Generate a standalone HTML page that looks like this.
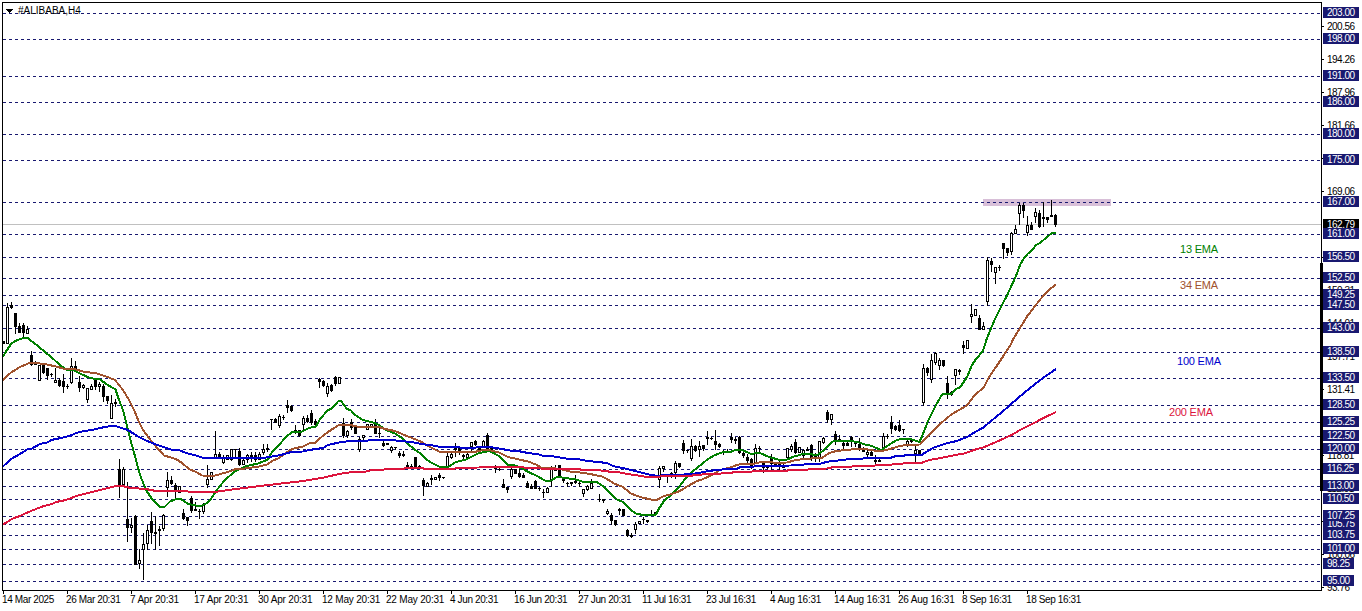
<!DOCTYPE html>
<html><head><meta charset="utf-8"><title>#ALIBABA,H4</title>
<style>
html,body{margin:0;padding:0;background:#fff;}
body{width:1362px;height:611px;overflow:hidden;position:relative;font-family:"Liberation Sans",sans-serif;}
#c{position:absolute;left:0;top:0;}
.t{position:absolute;white-space:nowrap;font-size:10px;line-height:11px;height:11px;color:#000;}
.lv{position:absolute;left:1323px;height:11px;background:#191970;color:#fff;font-size:10px;line-height:11px;white-space:nowrap;letter-spacing:-0.5px;}
.lv span{position:absolute;left:4px;top:0px;}
.tk{letter-spacing:-0.5px;}
.dt{letter-spacing:-0.38px;}
.ema{position:absolute;white-space:nowrap;font-size:11px;line-height:12px;letter-spacing:-0.2px;}
</style></head><body>

<svg id="c" width="1362" height="611" viewBox="0 0 1362 611">
<rect x="983" y="199" width="128" height="7" fill="#D8BFD8" shape-rendering="crispEdges"/>
<g stroke="#191970" stroke-width="1" stroke-dasharray="3 3" shape-rendering="crispEdges"><line x1="3" y1="13.5" x2="1321" y2="13.5"/><line x1="3" y1="39.5" x2="1321" y2="39.5"/><line x1="3" y1="76.5" x2="1321" y2="76.5"/><line x1="3" y1="102.5" x2="1321" y2="102.5"/><line x1="3" y1="134.5" x2="1321" y2="134.5"/><line x1="3" y1="160.5" x2="1321" y2="160.5"/><line x1="3" y1="202.5" x2="1321" y2="202.5"/><line x1="3" y1="234.5" x2="1321" y2="234.5"/><line x1="3" y1="257.5" x2="1321" y2="257.5"/><line x1="3" y1="278.5" x2="1321" y2="278.5"/><line x1="3" y1="295.5" x2="1321" y2="295.5"/><line x1="3" y1="305.5" x2="1321" y2="305.5"/><line x1="3" y1="328.5" x2="1321" y2="328.5"/><line x1="3" y1="352.5" x2="1321" y2="352.5"/><line x1="3" y1="378.5" x2="1321" y2="378.5"/><line x1="3" y1="405.5" x2="1321" y2="405.5"/><line x1="3" y1="422.5" x2="1321" y2="422.5"/><line x1="3" y1="436.5" x2="1321" y2="436.5"/><line x1="3" y1="449.5" x2="1321" y2="449.5"/><line x1="3" y1="469.5" x2="1321" y2="469.5"/><line x1="3" y1="486.5" x2="1321" y2="486.5"/><line x1="3" y1="499.5" x2="1321" y2="499.5"/><line x1="3" y1="516.5" x2="1321" y2="516.5"/><line x1="3" y1="524.5" x2="1321" y2="524.5"/><line x1="3" y1="535.5" x2="1321" y2="535.5"/><line x1="3" y1="549.5" x2="1321" y2="549.5"/><line x1="3" y1="564.5" x2="1321" y2="564.5"/><line x1="3" y1="581.5" x2="1321" y2="581.5"/></g>
<rect x="3" y="224" width="1318" height="1" fill="#C0C0C0" shape-rendering="crispEdges"/>
<g shape-rendering="crispEdges" fill="#000"><rect x="3" y="341" width="1" height="3"/><rect x="2" y="341" width="3" height="3"/><rect x="7" y="303" width="1" height="41"/><rect x="6" y="307" width="3" height="37"/><rect x="11" y="302" width="1" height="7"/><rect x="10" y="305" width="3" height="3"/><rect x="15" y="313" width="1" height="21"/><rect x="14" y="313" width="3" height="14"/><rect x="19" y="323" width="1" height="10"/><rect x="18" y="326" width="3" height="7"/><rect x="23" y="323" width="1" height="15"/><rect x="22" y="325" width="3" height="8"/><rect x="27" y="326" width="1" height="8"/><rect x="26" y="329" width="3" height="5"/><rect x="31" y="351" width="1" height="15"/><rect x="30" y="355" width="3" height="10"/><rect x="35" y="361" width="1" height="4"/><rect x="34" y="364" width="3" height="1"/><rect x="39" y="365" width="1" height="16"/><rect x="38" y="365" width="3" height="16"/><rect x="43" y="365" width="1" height="9"/><rect x="42" y="365" width="3" height="8"/><rect x="47" y="368" width="1" height="12"/><rect x="46" y="368" width="3" height="8"/><rect x="51" y="373" width="1" height="4"/><rect x="50" y="374" width="3" height="1"/><rect x="55" y="368" width="1" height="15"/><rect x="54" y="380" width="3" height="3"/><rect x="59" y="378" width="1" height="9"/><rect x="58" y="380" width="3" height="6"/><rect x="63" y="374" width="1" height="19"/><rect x="62" y="381" width="3" height="6"/><rect x="67" y="384" width="1" height="5"/><rect x="66" y="386" width="3" height="1"/><rect x="71" y="358" width="1" height="26"/><rect x="70" y="366" width="3" height="17"/><rect x="75" y="361" width="1" height="9"/><rect x="74" y="366" width="3" height="4"/><rect x="79" y="376" width="1" height="16"/><rect x="78" y="382" width="3" height="6"/><rect x="83" y="384" width="1" height="5"/><rect x="82" y="385" width="3" height="3"/><rect x="87" y="388" width="1" height="15"/><rect x="86" y="388" width="3" height="12"/><rect x="91" y="384" width="1" height="6"/><rect x="90" y="386" width="3" height="4"/><rect x="95" y="378" width="1" height="12"/><rect x="94" y="379" width="3" height="8"/><rect x="99" y="382" width="1" height="10"/><rect x="98" y="384" width="3" height="3"/><rect x="103" y="384" width="1" height="18"/><rect x="102" y="386" width="3" height="11"/><rect x="107" y="396" width="1" height="8"/><rect x="106" y="396" width="3" height="5"/><rect x="111" y="395" width="1" height="24"/><rect x="110" y="403" width="3" height="16"/><rect x="115" y="399" width="1" height="8"/><rect x="114" y="402" width="3" height="2"/><rect x="119" y="459" width="1" height="39"/><rect x="118" y="469" width="3" height="16"/><rect x="123" y="467" width="1" height="18"/><rect x="122" y="469" width="3" height="16"/><rect x="127" y="482" width="1" height="60"/><rect x="126" y="519" width="3" height="9"/><rect x="131" y="518" width="1" height="15"/><rect x="130" y="525" width="3" height="3"/><rect x="135" y="515" width="1" height="50"/><rect x="134" y="516" width="3" height="49"/><rect x="139" y="549" width="1" height="20"/><rect x="138" y="560" width="3" height="4"/><rect x="143" y="533" width="1" height="47"/><rect x="142" y="544" width="3" height="6"/><rect x="147" y="525" width="1" height="25"/><rect x="146" y="530" width="3" height="14"/><rect x="151" y="512" width="1" height="32"/><rect x="150" y="521" width="3" height="12"/><rect x="155" y="516" width="1" height="34"/><rect x="154" y="532" width="3" height="2"/><rect x="159" y="526" width="1" height="20"/><rect x="158" y="529" width="3" height="2"/><rect x="163" y="514" width="1" height="17"/><rect x="162" y="515" width="3" height="14"/><rect x="167" y="472" width="1" height="25"/><rect x="166" y="480" width="3" height="8"/><rect x="171" y="476" width="1" height="9"/><rect x="170" y="480" width="3" height="4"/><rect x="175" y="483" width="1" height="15"/><rect x="174" y="485" width="3" height="6"/><rect x="179" y="486" width="1" height="7"/><rect x="178" y="486" width="3" height="7"/><rect x="183" y="509" width="1" height="11"/><rect x="182" y="513" width="3" height="6"/><rect x="187" y="517" width="1" height="9"/><rect x="186" y="517" width="3" height="4"/><rect x="191" y="496" width="1" height="17"/><rect x="190" y="498" width="3" height="13"/><rect x="195" y="502" width="1" height="9"/><rect x="194" y="509" width="3" height="2"/><rect x="199" y="509" width="1" height="10"/><rect x="198" y="511" width="3" height="1"/><rect x="203" y="503" width="1" height="11"/><rect x="202" y="504" width="3" height="8"/><rect x="207" y="465" width="1" height="23"/><rect x="206" y="479" width="3" height="6"/><rect x="211" y="472" width="1" height="8"/><rect x="210" y="472" width="3" height="8"/><rect x="215" y="431" width="1" height="27"/><rect x="214" y="454" width="3" height="4"/><rect x="219" y="452" width="1" height="6"/><rect x="218" y="454" width="3" height="4"/><rect x="223" y="455" width="1" height="9"/><rect x="222" y="457" width="3" height="6"/><rect x="227" y="455" width="1" height="5"/><rect x="226" y="455" width="3" height="5"/><rect x="231" y="449" width="1" height="12"/><rect x="230" y="449" width="3" height="11"/><rect x="235" y="449" width="1" height="10"/><rect x="234" y="449" width="3" height="1"/><rect x="239" y="448" width="1" height="18"/><rect x="238" y="451" width="3" height="14"/><rect x="243" y="459" width="1" height="6"/><rect x="242" y="460" width="3" height="5"/><rect x="247" y="454" width="1" height="9"/><rect x="246" y="455" width="3" height="5"/><rect x="251" y="452" width="1" height="10"/><rect x="250" y="455" width="3" height="4"/><rect x="255" y="452" width="1" height="10"/><rect x="254" y="455" width="3" height="5"/><rect x="259" y="452" width="1" height="8"/><rect x="258" y="454" width="3" height="6"/><rect x="263" y="444" width="1" height="11"/><rect x="262" y="449" width="3" height="4"/><rect x="267" y="444" width="1" height="8"/><rect x="266" y="448" width="3" height="2"/><rect x="271" y="419" width="1" height="11"/><rect x="270" y="419" width="3" height="1"/><rect x="275" y="418" width="1" height="5"/><rect x="274" y="419" width="3" height="4"/><rect x="279" y="414" width="1" height="14"/><rect x="278" y="416" width="3" height="10"/><rect x="283" y="415" width="1" height="5"/><rect x="282" y="417" width="3" height="1"/><rect x="287" y="400" width="1" height="13"/><rect x="286" y="405" width="3" height="3"/><rect x="291" y="405" width="1" height="7"/><rect x="290" y="406" width="3" height="5"/><rect x="295" y="425" width="1" height="9"/><rect x="294" y="430" width="3" height="2"/><rect x="299" y="430" width="1" height="7"/><rect x="298" y="430" width="3" height="6"/><rect x="303" y="416" width="1" height="14"/><rect x="302" y="418" width="3" height="7"/><rect x="307" y="415" width="1" height="8"/><rect x="306" y="418" width="3" height="4"/><rect x="311" y="410" width="1" height="15"/><rect x="310" y="413" width="3" height="10"/><rect x="315" y="419" width="1" height="7"/><rect x="314" y="421" width="3" height="4"/><rect x="319" y="378" width="1" height="10"/><rect x="318" y="379" width="3" height="3"/><rect x="323" y="380" width="1" height="7"/><rect x="322" y="381" width="3" height="5"/><rect x="327" y="383" width="1" height="14"/><rect x="326" y="386" width="3" height="8"/><rect x="331" y="384" width="1" height="8"/><rect x="330" y="385" width="3" height="6"/><rect x="335" y="376" width="1" height="10"/><rect x="334" y="377" width="3" height="7"/><rect x="339" y="377" width="1" height="7"/><rect x="338" y="377" width="3" height="7"/><rect x="343" y="418" width="1" height="20"/><rect x="342" y="423" width="3" height="13"/><rect x="347" y="430" width="1" height="8"/><rect x="346" y="431" width="3" height="5"/><rect x="351" y="419" width="1" height="11"/><rect x="350" y="422" width="3" height="6"/><rect x="355" y="427" width="1" height="7"/><rect x="354" y="427" width="3" height="7"/><rect x="359" y="437" width="1" height="15"/><rect x="358" y="439" width="3" height="11"/><rect x="363" y="435" width="1" height="5"/><rect x="362" y="435" width="3" height="3"/><rect x="367" y="424" width="1" height="6"/><rect x="366" y="424" width="3" height="6"/><rect x="371" y="424" width="1" height="4"/><rect x="370" y="424" width="3" height="4"/><rect x="375" y="419" width="1" height="15"/><rect x="374" y="423" width="3" height="11"/><rect x="379" y="428" width="1" height="10"/><rect x="378" y="433" width="3" height="1"/><rect x="383" y="441" width="1" height="6"/><rect x="382" y="443" width="3" height="3"/><rect x="387" y="443" width="1" height="2"/><rect x="386" y="443" width="3" height="2"/><rect x="391" y="446" width="1" height="7"/><rect x="390" y="447" width="3" height="4"/><rect x="395" y="447" width="1" height="3"/><rect x="394" y="447" width="3" height="1"/><rect x="399" y="451" width="1" height="7"/><rect x="398" y="453" width="3" height="3"/><rect x="403" y="451" width="1" height="6"/><rect x="402" y="454" width="3" height="2"/><rect x="407" y="462" width="1" height="6"/><rect x="406" y="465" width="3" height="3"/><rect x="411" y="464" width="1" height="4"/><rect x="410" y="466" width="3" height="2"/><rect x="415" y="457" width="1" height="11"/><rect x="414" y="457" width="3" height="11"/><rect x="419" y="465" width="1" height="3"/><rect x="418" y="466" width="3" height="2"/><rect x="423" y="478" width="1" height="18"/><rect x="422" y="480" width="3" height="6"/><rect x="427" y="482" width="1" height="5"/><rect x="426" y="483" width="3" height="4"/><rect x="431" y="475" width="1" height="10"/><rect x="430" y="478" width="3" height="2"/><rect x="435" y="477" width="1" height="3"/><rect x="434" y="477" width="3" height="3"/><rect x="439" y="473" width="1" height="8"/><rect x="438" y="475" width="3" height="3"/><rect x="443" y="477" width="1" height="2"/><rect x="442" y="477" width="3" height="1"/><rect x="447" y="453" width="1" height="15"/><rect x="446" y="456" width="3" height="11"/><rect x="451" y="453" width="1" height="6"/><rect x="450" y="454" width="3" height="4"/><rect x="455" y="443" width="1" height="14"/><rect x="454" y="448" width="3" height="2"/><rect x="459" y="446" width="1" height="9"/><rect x="458" y="447" width="3" height="4"/><rect x="463" y="454" width="1" height="6"/><rect x="462" y="455" width="3" height="2"/><rect x="467" y="453" width="1" height="6"/><rect x="466" y="454" width="3" height="4"/><rect x="471" y="442" width="1" height="10"/><rect x="470" y="442" width="3" height="5"/><rect x="475" y="440" width="1" height="6"/><rect x="474" y="441" width="3" height="4"/><rect x="479" y="446" width="1" height="5"/><rect x="478" y="447" width="3" height="4"/><rect x="483" y="440" width="1" height="8"/><rect x="482" y="441" width="3" height="6"/><rect x="487" y="433" width="1" height="16"/><rect x="486" y="435" width="3" height="14"/><rect x="491" y="446" width="1" height="6"/><rect x="490" y="447" width="3" height="5"/><rect x="495" y="465" width="1" height="8"/><rect x="494" y="468" width="3" height="1"/><rect x="499" y="468" width="1" height="3"/><rect x="498" y="469" width="3" height="1"/><rect x="503" y="479" width="1" height="9"/><rect x="502" y="484" width="3" height="4"/><rect x="507" y="487" width="1" height="6"/><rect x="506" y="487" width="3" height="3"/><rect x="511" y="468" width="1" height="11"/><rect x="510" y="469" width="3" height="8"/><rect x="515" y="469" width="1" height="5"/><rect x="514" y="469" width="3" height="5"/><rect x="519" y="469" width="1" height="9"/><rect x="518" y="473" width="3" height="4"/><rect x="523" y="473" width="1" height="5"/><rect x="522" y="475" width="3" height="3"/><rect x="527" y="481" width="1" height="7"/><rect x="526" y="483" width="3" height="5"/><rect x="531" y="484" width="1" height="5"/><rect x="530" y="486" width="3" height="3"/><rect x="535" y="480" width="1" height="9"/><rect x="534" y="481" width="3" height="8"/><rect x="539" y="487" width="1" height="4"/><rect x="538" y="488" width="3" height="1"/><rect x="543" y="489" width="1" height="9"/><rect x="542" y="492" width="3" height="1"/><rect x="547" y="487" width="1" height="6"/><rect x="546" y="488" width="3" height="5"/><rect x="551" y="466" width="1" height="21"/><rect x="550" y="469" width="3" height="11"/><rect x="555" y="465" width="1" height="6"/><rect x="554" y="468" width="3" height="3"/><rect x="559" y="465" width="1" height="12"/><rect x="558" y="465" width="3" height="12"/><rect x="563" y="479" width="1" height="4"/><rect x="562" y="479" width="3" height="2"/><rect x="567" y="482" width="1" height="5"/><rect x="566" y="483" width="3" height="1"/><rect x="571" y="482" width="1" height="4"/><rect x="570" y="482" width="3" height="2"/><rect x="575" y="475" width="1" height="9"/><rect x="574" y="481" width="3" height="2"/><rect x="579" y="482" width="1" height="5"/><rect x="578" y="483" width="3" height="1"/><rect x="583" y="489" width="1" height="8"/><rect x="582" y="489" width="3" height="5"/><rect x="587" y="485" width="1" height="6"/><rect x="586" y="486" width="3" height="4"/><rect x="591" y="479" width="1" height="10"/><rect x="590" y="483" width="3" height="6"/><rect x="595" y="481" width="1" height="2"/><rect x="594" y="481" width="3" height="2"/><rect x="599" y="494" width="1" height="8"/><rect x="598" y="499" width="3" height="1"/><rect x="603" y="499" width="1" height="4"/><rect x="602" y="499" width="3" height="2"/><rect x="607" y="509" width="1" height="6"/><rect x="606" y="511" width="3" height="3"/><rect x="611" y="513" width="1" height="12"/><rect x="610" y="515" width="3" height="6"/><rect x="615" y="520" width="1" height="6"/><rect x="614" y="520" width="3" height="5"/><rect x="619" y="508" width="1" height="7"/><rect x="618" y="509" width="3" height="2"/><rect x="623" y="509" width="1" height="7"/><rect x="622" y="509" width="3" height="7"/><rect x="627" y="529" width="1" height="8"/><rect x="626" y="530" width="3" height="6"/><rect x="631" y="533" width="1" height="5"/><rect x="630" y="535" width="3" height="2"/><rect x="635" y="522" width="1" height="12"/><rect x="634" y="524" width="3" height="6"/><rect x="639" y="521" width="1" height="3"/><rect x="638" y="521" width="3" height="3"/><rect x="643" y="517" width="1" height="7"/><rect x="642" y="519" width="3" height="1"/><rect x="647" y="520" width="1" height="3"/><rect x="646" y="520" width="3" height="2"/><rect x="651" y="510" width="1" height="6"/><rect x="650" y="514" width="3" height="2"/><rect x="655" y="512" width="1" height="3"/><rect x="654" y="512" width="3" height="3"/><rect x="659" y="466" width="1" height="22"/><rect x="658" y="468" width="3" height="12"/><rect x="663" y="466" width="1" height="6"/><rect x="662" y="466" width="3" height="3"/><rect x="667" y="476" width="1" height="7"/><rect x="666" y="476" width="3" height="1"/><rect x="671" y="472" width="1" height="6"/><rect x="670" y="473" width="3" height="3"/><rect x="675" y="461" width="1" height="18"/><rect x="674" y="463" width="3" height="10"/><rect x="679" y="463" width="1" height="5"/><rect x="678" y="463" width="3" height="4"/><rect x="683" y="440" width="1" height="14"/><rect x="682" y="443" width="3" height="8"/><rect x="687" y="450" width="1" height="3"/><rect x="686" y="450" width="3" height="1"/><rect x="691" y="439" width="1" height="22"/><rect x="690" y="446" width="3" height="13"/><rect x="695" y="445" width="1" height="7"/><rect x="694" y="446" width="3" height="5"/><rect x="699" y="441" width="1" height="16"/><rect x="698" y="446" width="3" height="4"/><rect x="703" y="445" width="1" height="6"/><rect x="702" y="445" width="3" height="4"/><rect x="707" y="431" width="1" height="14"/><rect x="706" y="437" width="3" height="2"/><rect x="711" y="437" width="1" height="3"/><rect x="710" y="438" width="3" height="1"/><rect x="715" y="430" width="1" height="20"/><rect x="714" y="441" width="3" height="4"/><rect x="719" y="443" width="1" height="5"/><rect x="718" y="444" width="3" height="3"/><rect x="723" y="450" width="1" height="5"/><rect x="722" y="451" width="3" height="2"/><rect x="727" y="449" width="1" height="4"/><rect x="726" y="451" width="3" height="2"/><rect x="731" y="433" width="1" height="10"/><rect x="730" y="437" width="3" height="3"/><rect x="735" y="437" width="1" height="7"/><rect x="734" y="439" width="3" height="2"/><rect x="739" y="436" width="1" height="18"/><rect x="738" y="437" width="3" height="16"/><rect x="743" y="452" width="1" height="6"/><rect x="742" y="453" width="3" height="3"/><rect x="747" y="454" width="1" height="9"/><rect x="746" y="457" width="3" height="4"/><rect x="751" y="458" width="1" height="11"/><rect x="750" y="459" width="3" height="7"/><rect x="755" y="444" width="1" height="19"/><rect x="754" y="448" width="3" height="15"/><rect x="759" y="446" width="1" height="7"/><rect x="758" y="448" width="3" height="1"/><rect x="763" y="462" width="1" height="11"/><rect x="762" y="463" width="3" height="5"/><rect x="767" y="466" width="1" height="3"/><rect x="766" y="466" width="3" height="2"/><rect x="771" y="454" width="1" height="16"/><rect x="770" y="458" width="3" height="6"/><rect x="775" y="462" width="1" height="5"/><rect x="774" y="463" width="3" height="4"/><rect x="779" y="459" width="1" height="11"/><rect x="778" y="463" width="3" height="4"/><rect x="783" y="464" width="1" height="4"/><rect x="782" y="465" width="3" height="3"/><rect x="787" y="448" width="1" height="10"/><rect x="786" y="448" width="3" height="10"/><rect x="791" y="444" width="1" height="8"/><rect x="790" y="446" width="3" height="4"/><rect x="795" y="439" width="1" height="15"/><rect x="794" y="442" width="3" height="11"/><rect x="799" y="447" width="1" height="6"/><rect x="798" y="447" width="3" height="6"/><rect x="803" y="449" width="1" height="10"/><rect x="802" y="450" width="3" height="6"/><rect x="807" y="447" width="1" height="4"/><rect x="806" y="449" width="3" height="2"/><rect x="811" y="444" width="1" height="17"/><rect x="810" y="445" width="3" height="13"/><rect x="815" y="453" width="1" height="9"/><rect x="814" y="455" width="3" height="2"/><rect x="819" y="441" width="1" height="21"/><rect x="818" y="441" width="3" height="18"/><rect x="823" y="437" width="1" height="7"/><rect x="822" y="438" width="3" height="5"/><rect x="827" y="410" width="1" height="13"/><rect x="826" y="412" width="3" height="8"/><rect x="831" y="414" width="1" height="11"/><rect x="830" y="414" width="3" height="6"/><rect x="835" y="431" width="1" height="14"/><rect x="834" y="434" width="3" height="7"/><rect x="839" y="435" width="1" height="7"/><rect x="838" y="439" width="3" height="2"/><rect x="843" y="442" width="1" height="8"/><rect x="842" y="443" width="3" height="3"/><rect x="847" y="442" width="1" height="4"/><rect x="846" y="443" width="3" height="3"/><rect x="851" y="436" width="1" height="11"/><rect x="850" y="437" width="3" height="5"/><rect x="855" y="441" width="1" height="6"/><rect x="854" y="442" width="3" height="2"/><rect x="859" y="438" width="1" height="13"/><rect x="858" y="444" width="3" height="5"/><rect x="863" y="447" width="1" height="5"/><rect x="862" y="449" width="3" height="3"/><rect x="867" y="450" width="1" height="8"/><rect x="866" y="452" width="3" height="3"/><rect x="871" y="451" width="1" height="5"/><rect x="870" y="452" width="3" height="4"/><rect x="875" y="455" width="1" height="9"/><rect x="874" y="460" width="3" height="2"/><rect x="879" y="459" width="1" height="3"/><rect x="878" y="460" width="3" height="2"/><rect x="883" y="433" width="1" height="17"/><rect x="882" y="436" width="3" height="12"/><rect x="887" y="434" width="1" height="5"/><rect x="886" y="436" width="3" height="1"/><rect x="891" y="416" width="1" height="18"/><rect x="890" y="422" width="3" height="7"/><rect x="895" y="425" width="1" height="6"/><rect x="894" y="426" width="3" height="4"/><rect x="899" y="420" width="1" height="12"/><rect x="898" y="425" width="3" height="6"/><rect x="903" y="429" width="1" height="5"/><rect x="902" y="429" width="3" height="1"/><rect x="907" y="440" width="1" height="7"/><rect x="906" y="441" width="3" height="4"/><rect x="911" y="440" width="1" height="3"/><rect x="910" y="440" width="3" height="2"/><rect x="915" y="446" width="1" height="16"/><rect x="914" y="450" width="3" height="4"/><rect x="919" y="450" width="1" height="5"/><rect x="918" y="450" width="3" height="5"/><rect x="923" y="364" width="1" height="42"/><rect x="922" y="368" width="3" height="35"/><rect x="927" y="367" width="1" height="9"/><rect x="926" y="368" width="3" height="5"/><rect x="931" y="354" width="1" height="29"/><rect x="930" y="360" width="3" height="20"/><rect x="935" y="352" width="1" height="13"/><rect x="934" y="353" width="3" height="10"/><rect x="939" y="358" width="1" height="12"/><rect x="938" y="360" width="3" height="6"/><rect x="943" y="360" width="1" height="7"/><rect x="942" y="360" width="3" height="6"/><rect x="947" y="376" width="1" height="23"/><rect x="946" y="383" width="3" height="11"/><rect x="951" y="391" width="1" height="5"/><rect x="950" y="392" width="3" height="3"/><rect x="955" y="369" width="1" height="16"/><rect x="954" y="369" width="3" height="7"/><rect x="959" y="369" width="1" height="6"/><rect x="958" y="370" width="3" height="2"/><rect x="963" y="341" width="1" height="13"/><rect x="962" y="345" width="3" height="3"/><rect x="967" y="340" width="1" height="9"/><rect x="966" y="340" width="3" height="9"/><rect x="971" y="304" width="1" height="19"/><rect x="970" y="314" width="3" height="3"/><rect x="975" y="309" width="1" height="7"/><rect x="974" y="309" width="3" height="7"/><rect x="979" y="315" width="1" height="15"/><rect x="978" y="318" width="3" height="12"/><rect x="983" y="322" width="1" height="8"/><rect x="982" y="326" width="3" height="4"/><rect x="987" y="257" width="1" height="49"/><rect x="986" y="260" width="3" height="42"/><rect x="991" y="258" width="1" height="14"/><rect x="990" y="261" width="3" height="4"/><rect x="995" y="267" width="1" height="17"/><rect x="994" y="267" width="3" height="6"/><rect x="999" y="265" width="1" height="6"/><rect x="998" y="267" width="3" height="1"/><rect x="1003" y="243" width="1" height="16"/><rect x="1002" y="243" width="3" height="6"/><rect x="1007" y="248" width="1" height="8"/><rect x="1006" y="248" width="3" height="5"/><rect x="1011" y="232" width="1" height="23"/><rect x="1010" y="233" width="3" height="19"/><rect x="1015" y="225" width="1" height="9"/><rect x="1014" y="229" width="3" height="5"/><rect x="1019" y="203" width="1" height="22"/><rect x="1018" y="205" width="3" height="9"/><rect x="1023" y="203" width="1" height="15"/><rect x="1022" y="205" width="3" height="6"/><rect x="1027" y="216" width="1" height="20"/><rect x="1026" y="225" width="3" height="8"/><rect x="1031" y="222" width="1" height="8"/><rect x="1030" y="225" width="3" height="5"/><rect x="1035" y="208" width="1" height="15"/><rect x="1034" y="212" width="3" height="5"/><rect x="1039" y="210" width="1" height="18"/><rect x="1038" y="213" width="3" height="14"/><rect x="1043" y="202" width="1" height="25"/><rect x="1042" y="217" width="3" height="2"/><rect x="1047" y="217" width="1" height="6"/><rect x="1046" y="217" width="3" height="3"/><rect x="1051" y="200" width="1" height="17"/><rect x="1050" y="215" width="3" height="2"/><rect x="1055" y="214" width="1" height="13"/><rect x="1054" y="215" width="3" height="10"/></g><g shape-rendering="crispEdges" fill="#fff"><rect x="7" y="308" width="1" height="35"/><rect x="27" y="330" width="1" height="3"/><rect x="39" y="366" width="1" height="14"/><rect x="55" y="381" width="1" height="1"/><rect x="71" y="367" width="1" height="15"/><rect x="83" y="386" width="1" height="1"/><rect x="87" y="389" width="1" height="10"/><rect x="91" y="387" width="1" height="2"/><rect x="99" y="385" width="1" height="1"/><rect x="111" y="404" width="1" height="14"/><rect x="123" y="470" width="1" height="14"/><rect x="131" y="526" width="1" height="1"/><rect x="139" y="561" width="1" height="2"/><rect x="143" y="545" width="1" height="4"/><rect x="147" y="531" width="1" height="12"/><rect x="163" y="516" width="1" height="12"/><rect x="167" y="481" width="1" height="6"/><rect x="179" y="487" width="1" height="5"/><rect x="203" y="505" width="1" height="6"/><rect x="207" y="480" width="1" height="4"/><rect x="211" y="473" width="1" height="6"/><rect x="215" y="455" width="1" height="2"/><rect x="223" y="458" width="1" height="4"/><rect x="227" y="456" width="1" height="3"/><rect x="231" y="450" width="1" height="9"/><rect x="243" y="461" width="1" height="3"/><rect x="247" y="456" width="1" height="3"/><rect x="259" y="455" width="1" height="4"/><rect x="263" y="450" width="1" height="2"/><rect x="279" y="417" width="1" height="8"/><rect x="303" y="419" width="1" height="5"/><rect x="327" y="387" width="1" height="6"/><rect x="339" y="378" width="1" height="5"/><rect x="347" y="432" width="1" height="3"/><rect x="359" y="440" width="1" height="9"/><rect x="363" y="436" width="1" height="1"/><rect x="367" y="425" width="1" height="4"/><rect x="371" y="425" width="1" height="2"/><rect x="391" y="448" width="1" height="2"/><rect x="427" y="484" width="1" height="2"/><rect x="435" y="478" width="1" height="1"/><rect x="447" y="457" width="1" height="9"/><rect x="451" y="455" width="1" height="2"/><rect x="467" y="455" width="1" height="2"/><rect x="471" y="443" width="1" height="3"/><rect x="483" y="442" width="1" height="4"/><rect x="511" y="470" width="1" height="6"/><rect x="547" y="489" width="1" height="3"/><rect x="551" y="470" width="1" height="9"/><rect x="583" y="490" width="1" height="3"/><rect x="587" y="487" width="1" height="2"/><rect x="591" y="484" width="1" height="4"/><rect x="607" y="512" width="1" height="1"/><rect x="635" y="525" width="1" height="4"/><rect x="639" y="522" width="1" height="1"/><rect x="659" y="469" width="1" height="10"/><rect x="663" y="467" width="1" height="1"/><rect x="675" y="464" width="1" height="8"/><rect x="691" y="447" width="1" height="11"/><rect x="699" y="447" width="1" height="2"/><rect x="755" y="449" width="1" height="13"/><rect x="787" y="449" width="1" height="8"/><rect x="791" y="447" width="1" height="2"/><rect x="799" y="448" width="1" height="4"/><rect x="803" y="451" width="1" height="4"/><rect x="819" y="442" width="1" height="16"/><rect x="823" y="439" width="1" height="3"/><rect x="831" y="415" width="1" height="4"/><rect x="867" y="453" width="1" height="1"/><rect x="883" y="437" width="1" height="10"/><rect x="907" y="442" width="1" height="2"/><rect x="915" y="451" width="1" height="2"/><rect x="923" y="369" width="1" height="33"/><rect x="931" y="361" width="1" height="18"/><rect x="935" y="354" width="1" height="8"/><rect x="939" y="361" width="1" height="4"/><rect x="955" y="370" width="1" height="5"/><rect x="967" y="341" width="1" height="7"/><rect x="971" y="315" width="1" height="1"/><rect x="975" y="310" width="1" height="5"/><rect x="983" y="327" width="1" height="2"/><rect x="987" y="261" width="1" height="40"/><rect x="995" y="268" width="1" height="4"/><rect x="1011" y="234" width="1" height="17"/><rect x="1015" y="230" width="1" height="3"/><rect x="1019" y="206" width="1" height="7"/><rect x="1027" y="226" width="1" height="6"/><rect x="1035" y="213" width="1" height="3"/></g>
<polyline points="3,356.5 7,350 11.5,343.3 16,340.8 20,339 24,338 28,338 30,340 38,346 46,353 50,356 60,365 66,369.5 72,369.5 80,373.5 90,378 100,379.5 107,384.5 115.5,389.5 119,400 123,410 126,422 128.5,432 130.5,440 136,460 140,475 146,490 152,499 160,507 164.5,507 170,501.5 176,499 181,499 188,504 196,505.5 202,505.5 207,503 211,499 216,491 224,481 234,472 246,466.2 258,463.5 268,459.5 271,453.5 278,446 286,437 292,432 302,431.5 309,428 316,426.5 320,419 328,410 331,409 339,400.5 341,401 347,409 351,410.5 355,415 363,420 373,422.5 379,425 387,430.5 395,433.5 402,438 408,444 416,450.5 420,453 427,460 432,463 440,467 448,467.2 456,462 466,459.5 478,453.5 488,451.2 490,451.2 499,456 508,465 515,465.5 522,468.5 528,471.8 538,476.5 546,481.2 550,481 558,476.5 564,478 574,479 584,482 597,482 604,487 610,493 617,499.5 623,502 632,511 636,513.5 645,515.5 656,514.5 659,508.5 664,501 672,494 678,488.5 685,479 692,472 700,465.5 708,459 714,455.5 722,452.5 730,452 736,449.8 742,450 750,453.5 754,453.5 759,452.5 769,457 779,459.8 787,459.5 794,456.5 804,453.8 810,453.8 814,455 818,454.5 824,450 832,441.6 840,440.8 856,441.6 864,444.2 872,446 880,449.7 882,449.5 888,445.5 896,440.5 902,438.5 910,438.8 915,440.5 919.5,442 923,434 928,421 936,405 942,394.5 951,394 957,388.5 960,387.5 967,377 972,365 976,359 983,351 987,338 991,328.5 995,319 1002,305 1007,295.5 1010,289 1016,276 1020,265 1024,258 1028,253.5 1032,250.5 1036,245 1040,243 1047,237 1052,233 1056,233" fill="none" stroke="#008000" stroke-width="2" stroke-linejoin="round" stroke-linecap="butt" shape-rendering="crispEdges"/>
<polyline points="3,380 11,372.5 20,367 29,363.2 35,363 45,364 56,366.5 65,369 74,369 85,372 95,373 105,376 115,380 123,390 129,400 134,410 139,422 143,430 150.5,440 158,449 164,455.5 176,459 182,463 189,469 196,472 202,475.5 214,475.8 226,472.5 236,469 244,468.7 259,466.5 267,464.5 272,461 278,458.5 286,453 292,449 303,446.5 309,443.5 315,443 322,436.5 328,432 339,424.8 349,424.5 354,426 364,427.5 379,427 385,429 395,431 402,434 408,436.5 416,439.5 422,442.2 430,447 440,452 475,452.2 478,450.8 488,449.8 491,450.5 499,452.5 508,457 519,459.5 528,461.5 536,464.5 541,467.5 546,468.2 556,468.5 564,469.8 572,472 580,472.5 590,474 602,476.5 607,479 614,483.5 623,487 631,493.5 640,497 652,499.8 657,499.8 664,496 672,494 680,491 688,486 697,481 702,479.5 712,475 720,470 730,467.5 737,465 742,463.8 754,463.8 761,462 771,461.8 774,462.8 787,462.5 794,460.5 804,458.8 822,458 829,453 837,450.8 850,449.8 854,448.8 864,448.8 874,450.5 882,451 888,449.5 900,446 908,444.8 920,444.5 928,436 936,428 944,420.5 952,414 960,409.5 967,405.5 974,396 984,387 989,377 996,367 1004,355 1010.5,345 1013,339.5 1020,328 1027,316.5 1035,306 1043,296 1050,289 1056,284.5" fill="none" stroke="#A0522D" stroke-width="2" stroke-linejoin="round" stroke-linecap="butt" shape-rendering="crispEdges"/>
<polyline points="3,466.5 11,459 20,454 28,449 32,448.5 40,444 47,442.5 52,439.8 60,438.2 70,435.8 76,433 84,431 92,430 100,428 106,426.8 114,425.5 120,427.5 128,430 131,432 138,436.5 146,440.5 156,444.5 171,449.5 179,450 186,453 196,455.5 204,458.2 263,458 269,457 280,455.2 292,451.8 303,451.5 309,450 323,448 328,445 340,442.2 350,441 367,441.2 369,439.8 395,439.8 397,441.2 406,441.5 416,442.8 422,444.2 431,445 440,447 459,447.2 461,448 475,448 477,447.2 491,447.2 499,448.5 510,450.5 519,451.2 528,453 538,454.2 544,456.2 554,456.5 564,458.2 572,459.2 580,459.5 588,461 596,461.8 607,463 613,466 627,469 636,471.2 645,473.5 652,475.3 660,475.8 664,475 682,474.6 692,474.2 706,471.5 717,470 728,469 737,468.5 742,466.5 754,466.5 757,465.8 791,465.5 794,465 804,464.5 819,464 828,461.6 840,460.3 852,458.8 867,458.4 870,457.9 891,457.7 896,456 904,455.7 905,455 921.5,455 926,452 933,448 940,445.4 947.2,443.2 956.2,441.1 967,437.1 974.2,432.6 983.2,427.6 994,418.6 1003,411.2 1012,403.2 1024.7,392.4 1037.3,382.2 1048.1,374.4 1056,369" fill="none" stroke="#0000CD" stroke-width="2" stroke-linejoin="round" stroke-linecap="butt" shape-rendering="crispEdges"/>
<polyline points="3,524 6,523 12,518.8 20,516 28,512.2 36,509 44,506 52,504 56,502 66,500 70,498.5 76,496 84,494 92,492 100,490 108,488 118,485.5 122,485.8 126,487 131,488 146,489 156,491 186,491.2 192,492 216,491.8 232,489.5 260,486 303,481 324,477.5 339,474 354,471.8 363,472.2 372,470 383,469.8 385,469 404,468.8 406,467.5 422,467.5 424,469 454,468.8 457,467.7 479,467.5 481,466.8 500,467 524,467.5 540,468.5 579,469 582,470 599,470.2 612,472 618,472 627,474 635,475 644,476.5 652,477 660,476.5 691,475.8 696,474.8 712,474 731,473 735,471.8 751,472 753,471 787,470.8 789,469.8 807,469.8 809,469 827,468.5 829,467.8 836,467 852,466.5 854,465.8 875,465.6 876.5,464.8 892,464.6 893,463.7 903.6,463.5 905,462.8 922,462.8 926,461.1 932.7,459.4 940,458.2 950.8,455.9 965,453.3 974,449.9 983,447.5 994,442.9 1003,438.9 1012,434.8 1021,429.4 1033.7,423.1 1044.5,417.5 1056,412" fill="none" stroke="#DC143C" stroke-width="2" stroke-linejoin="round" stroke-linecap="butt" shape-rendering="crispEdges"/>
<g shape-rendering="crispEdges" fill="#000"><rect x="2" y="2" width="1320" height="1"/><rect x="2" y="2" width="1" height="589"/><rect x="2" y="590" width="1320" height="1"/><rect x="1321" y="2" width="1" height="589"/><rect x="1320" y="263" width="3" height="228"/><rect x="1322" y="26" width="2" height="1"/><rect x="1322" y="59" width="2" height="1"/><rect x="1322" y="92" width="2" height="1"/><rect x="1322" y="125" width="2" height="1"/><rect x="1322" y="158" width="2" height="1"/><rect x="1322" y="191" width="2" height="1"/><rect x="1322" y="257" width="2" height="1"/><rect x="1322" y="290" width="2" height="1"/><rect x="1322" y="323" width="2" height="1"/><rect x="1322" y="356" width="2" height="1"/><rect x="1322" y="389" width="2" height="1"/><rect x="1322" y="422" width="2" height="1"/><rect x="1322" y="455" width="2" height="1"/><rect x="1322" y="488" width="2" height="1"/><rect x="1322" y="521" width="2" height="1"/><rect x="1322" y="554" width="2" height="1"/><rect x="1322" y="587" width="2" height="1"/><rect x="3" y="591" width="1" height="3"/><rect x="67" y="591" width="1" height="3"/><rect x="131" y="591" width="1" height="3"/><rect x="195" y="591" width="1" height="3"/><rect x="259" y="591" width="1" height="3"/><rect x="323" y="591" width="1" height="3"/><rect x="387" y="591" width="1" height="3"/><rect x="451" y="591" width="1" height="3"/><rect x="515" y="591" width="1" height="3"/><rect x="579" y="591" width="1" height="3"/><rect x="643" y="591" width="1" height="3"/><rect x="707" y="591" width="1" height="3"/><rect x="771" y="591" width="1" height="3"/><rect x="835" y="591" width="1" height="3"/><rect x="899" y="591" width="1" height="3"/><rect x="963" y="591" width="1" height="3"/><rect x="1027" y="591" width="1" height="3"/><rect x="6" y="9" width="7" height="1"/><rect x="7" y="10" width="5" height="1"/><rect x="8" y="11" width="3" height="1"/><rect x="9" y="12" width="1" height="1"/></g>
</svg>
<div class="t" style="left:18px;top:5px;">#ALIBABA,H4</div>
<div class="t tk" style="left:1327px;top:21px;">200.56</div>
<div class="t tk" style="left:1327px;top:54px;">194.26</div>
<div class="t tk" style="left:1327px;top:87px;">187.96</div>
<div class="t tk" style="left:1327px;top:120px;">181.66</div>
<div class="t tk" style="left:1327px;top:153px;">175.36</div>
<div class="t tk" style="left:1327px;top:186px;">169.06</div>
<div class="t tk" style="left:1327px;top:252px;">156.46</div>
<div class="t tk" style="left:1327px;top:285px;">150.31</div>
<div class="t tk" style="left:1327px;top:318px;">144.01</div>
<div class="t tk" style="left:1327px;top:351px;">137.71</div>
<div class="t tk" style="left:1327px;top:384px;">131.41</div>
<div class="t tk" style="left:1327px;top:417px;">125.11</div>
<div class="t tk" style="left:1327px;top:450px;">118.81</div>
<div class="t tk" style="left:1327px;top:483px;">112.51</div>
<div class="t tk" style="left:1327px;top:516px;">106.36</div>
<div class="t tk" style="left:1327px;top:549px;">100.06</div>
<div class="t tk" style="left:1327px;top:582px;">93.76</div>
<div class="lv" style="top:219px;width:36px;background:#000;"><span>162.79</span></div>
<div class="lv" style="top:575px;width:31px;"><span>95.00</span></div>
<div class="lv" style="top:558px;width:31px;"><span>98.25</span></div>
<div class="lv" style="top:543px;width:36px;"><span>101.00</span></div>
<div class="lv" style="top:529px;width:36px;"><span>103.75</span></div>
<div class="lv" style="top:518px;width:36px;"><span>105.75</span></div>
<div class="lv" style="top:510px;width:36px;"><span>107.25</span></div>
<div class="lv" style="top:493px;width:36px;"><span>110.50</span></div>
<div class="lv" style="top:480px;width:36px;"><span>113.00</span></div>
<div class="lv" style="top:463px;width:36px;"><span>116.25</span></div>
<div class="lv" style="top:443px;width:36px;"><span>120.00</span></div>
<div class="lv" style="top:430px;width:36px;"><span>122.50</span></div>
<div class="lv" style="top:416px;width:36px;"><span>125.25</span></div>
<div class="lv" style="top:399px;width:36px;"><span>128.50</span></div>
<div class="lv" style="top:372px;width:36px;"><span>133.50</span></div>
<div class="lv" style="top:346px;width:36px;"><span>138.50</span></div>
<div class="lv" style="top:322px;width:36px;"><span>143.00</span></div>
<div class="lv" style="top:299px;width:36px;"><span>147.50</span></div>
<div class="lv" style="top:289px;width:36px;"><span>149.25</span></div>
<div class="lv" style="top:272px;width:36px;"><span>152.50</span></div>
<div class="lv" style="top:251px;width:36px;"><span>156.50</span></div>
<div class="lv" style="top:228px;width:36px;"><span>161.00</span></div>
<div class="lv" style="top:196px;width:36px;"><span>167.00</span></div>
<div class="lv" style="top:154px;width:36px;"><span>175.00</span></div>
<div class="lv" style="top:128px;width:36px;"><span>180.00</span></div>
<div class="lv" style="top:96px;width:36px;"><span>186.00</span></div>
<div class="lv" style="top:70px;width:36px;"><span>191.00</span></div>
<div class="lv" style="top:33px;width:36px;"><span>198.00</span></div>
<div class="lv" style="top:7px;width:36px;"><span>203.00</span></div>
<div class="t dt" style="left:2px;top:594px">14 Mar 2025</div>
<div class="t dt" style="left:66px;top:594px">26 Mar 20:31</div>
<div class="t dt" style="left:130px;top:594px;letter-spacing:-0.2px">7 Apr 20:31</div>
<div class="t dt" style="left:194px;top:594px;letter-spacing:-0.2px">17 Apr 20:31</div>
<div class="t dt" style="left:258px;top:594px;letter-spacing:-0.2px">30 Apr 20:31</div>
<div class="t dt" style="left:322px;top:594px;letter-spacing:-0.2px">12 May 20:31</div>
<div class="t dt" style="left:386px;top:594px;letter-spacing:-0.2px">22 May 20:31</div>
<div class="t dt" style="left:450px;top:594px">4 Jun 20:31</div>
<div class="t dt" style="left:514px;top:594px">16 Jun 20:31</div>
<div class="t dt" style="left:578px;top:594px">27 Jun 20:31</div>
<div class="t dt" style="left:642px;top:594px">11 Jul 16:31</div>
<div class="t dt" style="left:706px;top:594px">23 Jul 16:31</div>
<div class="t dt" style="left:770px;top:594px;letter-spacing:-0.2px">4 Aug 16:31</div>
<div class="t dt" style="left:834px;top:594px;letter-spacing:-0.2px">14 Aug 16:31</div>
<div class="t dt" style="left:898px;top:594px;letter-spacing:-0.2px">26 Aug 16:31</div>
<div class="t dt" style="left:962px;top:594px">8 Sep 16:31</div>
<div class="t dt" style="left:1026px;top:594px">18 Sep 16:31</div>
<div class="ema" style="left:1180px;top:243px;color:#008000;">13 EMA</div>
<div class="ema" style="left:1180px;top:279px;color:#A0522D;">34 EMA</div>
<div class="ema" style="left:1177px;top:355px;color:#0000CD;">100 EMA</div>
<div class="ema" style="left:1169px;top:406px;color:#DC143C;">200 EMA</div>
</body></html>
